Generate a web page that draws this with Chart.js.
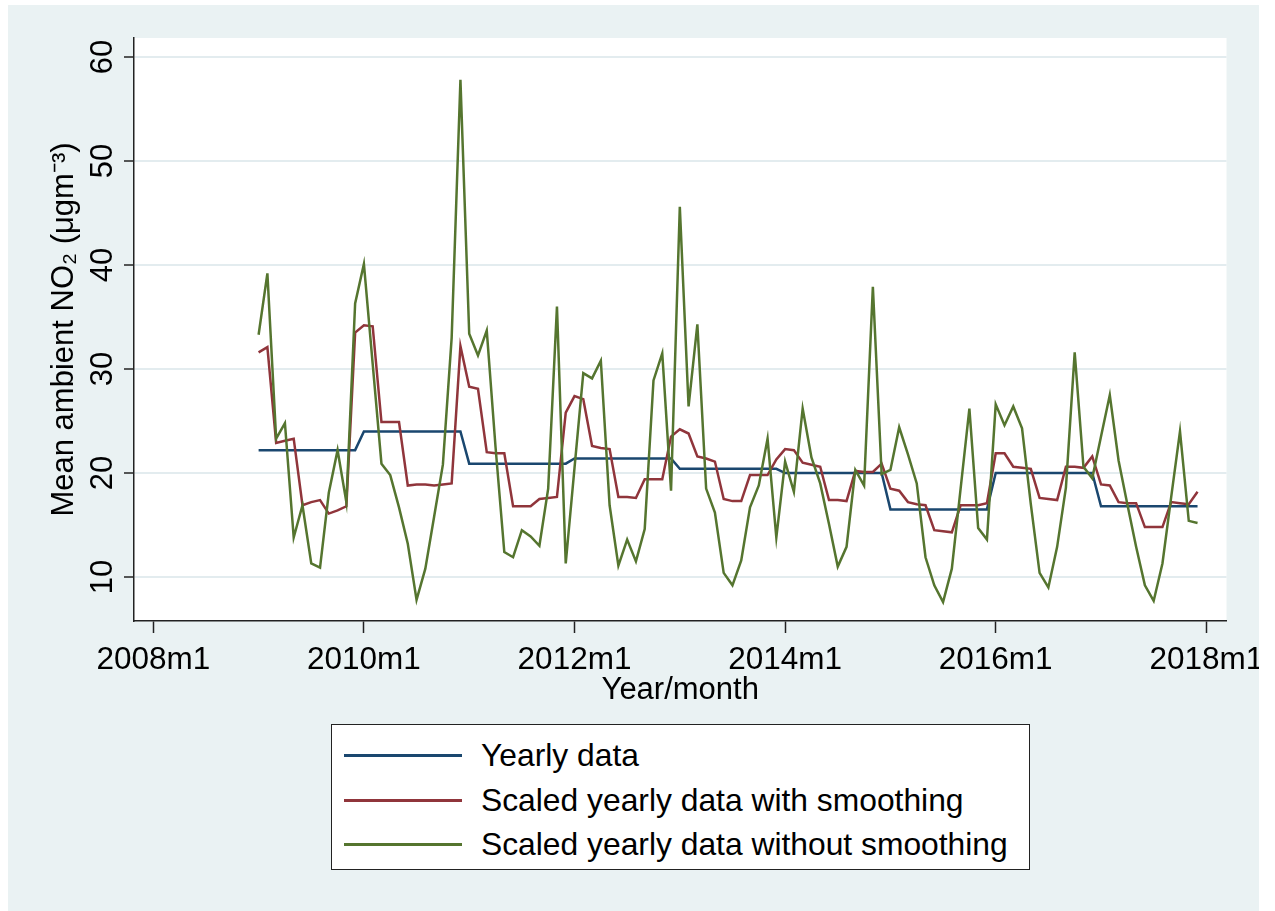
<!DOCTYPE html>
<html>
<head>
<meta charset="utf-8">
<script src="https://cdn.jsdelivr.net/npm/chart.js@4.4.1/dist/chart.umd.min.js"></script>
<style>
  html, body { margin: 0; padding: 0; background: #fff; }
  body { width: 1275px; height: 911px; position: relative; overflow: hidden; font-family: "Liberation Sans", Arial, sans-serif; }
  #graph { position: absolute; left: 8px; top: 5px; width: 1251px; height: 906px; background: #eaf2f3; overflow: hidden; }
  #chart { position: absolute; left: 0; top: 0; }
  #legend { position: absolute; left: 323px; top: 719px; width: 699px; height: 146px; background: #fff; border: 1.5px solid #222; box-sizing: border-box; }
  .item { position: absolute; left: 0; height: 36px; width: 100%; }
  .swatch { position: absolute; left: 12px; top: 17px; width: 118px; height: 2.5px; }
  .label { position: absolute; left: 149px; top: 0; line-height: 36px; font-size: 31.8px; color: #000; white-space: nowrap; }
</style>
</head>
<body>
<div id="graph">
  <canvas id="chart" width="1251" height="715"></canvas>
  <div id="legend"></div>
</div>
<script>
// Years covered by the monthly series
const years = [2009, 2010, 2011, 2012, 2013, 2014, 2015, 2016, 2017];

// Yearly data (one value per year, held for every month)
const yearlyData = [22.2, 24.0, 20.9, 21.4, 20.4, 20.0, 16.5, 20.0, 16.8];

// Scaled yearly data with smoothing, 2009m1 .. 2017m12
const scaledSmooth = [
    31.6, 32.1, 22.9, 23.1, 23.3, 16.9, 17.2, 17.4, 16.1, 16.4, 16.8, 33.5,
    34.2, 34.1, 24.9, 24.9, 24.9, 18.8, 18.9, 18.9, 18.8, 18.9, 19.0, 32.2,
    28.3, 28.1, 22.0, 21.9, 21.9, 16.8, 16.8, 16.8, 17.5, 17.6, 17.7, 25.8,
    27.4, 27.1, 22.6, 22.4, 22.3, 17.7, 17.7, 17.6, 19.4, 19.4, 19.4, 23.5,
    24.2, 23.8, 21.6, 21.4, 21.1, 17.5, 17.3, 17.3, 19.8, 19.8, 19.8, 21.3,
    22.3, 22.2, 21.0, 20.8, 20.6, 17.4, 17.4, 17.3, 20.2, 20.1, 20.1, 20.9,
    18.5, 18.3, 17.2, 17.0, 16.9, 14.5, 14.4, 14.3, 16.9, 16.9, 16.9, 17.1,
    21.9, 21.9, 20.6, 20.5, 20.4, 17.6, 17.5, 17.4, 20.6, 20.6, 20.5, 21.6,
    18.9, 18.8, 17.2, 17.1, 17.1, 14.8, 14.8, 14.8, 17.2, 17.1, 17.0, 18.2
];

// Scaled yearly data without smoothing, 2009m1 .. 2017m12
const scaledRaw = [
    33.3, 39.2, 23.3, 24.8, 13.8, 16.9, 11.3, 10.9, 18.1, 22.2, 17.2, 36.3,
    40.1, 30.5, 20.9, 19.8, 16.7, 13.2, 7.8, 10.8, 15.8, 20.8, 33.0, 57.8,
    33.4, 31.3, 33.7, 22.5, 12.4, 11.9, 14.5, 13.9, 13.0, 18.5, 36.0, 11.3,
    20.5, 29.6, 29.1, 30.8, 16.9, 11.1, 13.6, 11.5, 14.6, 28.9, 31.5, 18.3,
    45.6, 26.4, 34.3, 18.5, 16.2, 10.4, 9.2, 11.6, 16.7, 18.8, 23.3, 13.8,
    21.1, 18.2, 26.2, 21.5, 19.0, 15.1, 11.0, 12.9, 20.3, 18.8, 37.9, 19.9,
    20.3, 24.4, 21.8, 19.0, 11.9, 9.2, 7.6, 10.8, 18.5, 26.2, 14.7, 13.6,
    26.6, 24.6, 26.4, 24.3, 17.0, 10.4, 9.0, 12.9, 18.6, 31.6, 20.6, 19.5,
    23.5, 27.5, 21.2, 17.0, 12.9, 9.2, 7.7, 11.3, 17.7, 24.0, 15.4, 15.2
];

// Axis ticks (x in months since 2008m1)
const xTicks = [0, 24, 48, 72, 96, 120];
const xTickLabels = ['2008m1', '2010m1', '2012m1', '2014m1', '2016m1', '2018m1'];
const yTicks = [10, 20, 30, 40, 50, 60];

const seriesNames = ['Yearly data', 'Scaled yearly data with smoothing', 'Scaled yearly data without smoothing'];
const seriesColors = ['#1a476f', '#90353b', '#55752f'];

// month list: label, position on the time axis, year slot
const months = [];
years.forEach(function (yr, k) {
    for (let m = 0; m < 12; m++) {
        months.push({ label: yr + 'm' + (m + 1), t: (yr - 2008) * 12 + m, year: k });
    }
});

const seriesValues = [
    months.map(function (mo) { return yearlyData[mo.year]; }),
    scaledSmooth,
    scaledRaw
];

const FONT = '"Liberation Sans", Arial, sans-serif';
Chart.defaults.font.family = FONT;

const plotBg = {
    id: 'plotBg',
    beforeDraw(chart) {
        const a = chart.chartArea;
        const ctx = chart.ctx;
        ctx.save();
        ctx.fillStyle = '#ffffff';
        ctx.fillRect(a.left, a.top, a.right - a.left, a.bottom - a.top);
        ctx.restore();
    }
};

new Chart(document.getElementById('chart').getContext('2d'), {
    type: 'line',
    data: {
        datasets: seriesNames.map(function (name, s) {
            return {
                label: name,
                data: months.map(function (mo, i) { return { x: mo.t, y: seriesValues[s][i] }; }),
                borderColor: seriesColors[s],
                backgroundColor: seriesColors[s],
                borderWidth: 2.5,
                pointRadius: 0,
                tension: 0,
                fill: false,
                order: 2 - s
            };
        })
    },
    options: {
        responsive: false,
        animation: false,
        layout: { padding: { left: 0, top: 33, right: 32.5, bottom: 0 } },
        plugins: { legend: { display: false }, tooltip: { enabled: false } },
        scales: {
            x: {
                type: 'linear',
                min: -2.2,
                max: 122.3,
                afterBuildTicks: function (s) { s.ticks = xTicks.map(function (v) { return { value: v }; }); },
                afterFit: function (s) { s.height = 99; s.paddingLeft = 0; s.paddingRight = 0; },
                ticks: {
                    autoSkip: false, maxRotation: 0, minRotation: 0, padding: 8,
                    color: '#000', font: { size: 31.5 },
                    callback: function (v, i) { return xTickLabels[i]; }
                },
                grid: { drawOnChartArea: false, tickLength: 12, tickColor: '#222', tickWidth: 1.5 },
                border: { color: '#222', width: 1.5 },
                title: { display: true, text: 'Year/month', color: '#000', font: { size: 31 }, padding: { top: 0, bottom: 11 } }
            },
            y: {
                min: 5.77,
                max: 61.83,
                afterBuildTicks: function (s) { s.ticks = yTicks.map(function (v) { return { value: v }; }); },
                afterFit: function (s) { s.width = 126; s.paddingTop = 0; s.paddingBottom = 0; },
                ticks: {
                    autoSkip: false, minRotation: 90, maxRotation: 90, padding: 3, crossAlign: 'center',
                    color: '#000', font: { size: 31 }
                },
                grid: { color: '#e3ecef', lineWidth: 2, tickLength: 10, tickColor: '#222', tickWidth: 1.5 },
                border: { color: '#222', width: 1.5 },
                title: { display: true, text: 'Mean ambient NO\u2082 (\u03bcgm\u207b\u00b3)', color: '#000', font: { size: 31 }, padding: { top: 38, bottom: 0 } }
            }
        }
    },
    plugins: [plotBg]
});

// legend box
const legend = document.getElementById('legend');
const rowCentres = [30, 75, 119];
seriesNames.forEach(function (name, s) {
    legend.innerHTML +=
        '<div class="item" style="top:' + (rowCentres[s] - 18) + 'px">' +
            '<div class="swatch" style="background:' + seriesColors[s] + '"></div>' +
            '<div class="label">' + name + '</div>' +
        '</div>';
});
</script>
</body>
</html>
